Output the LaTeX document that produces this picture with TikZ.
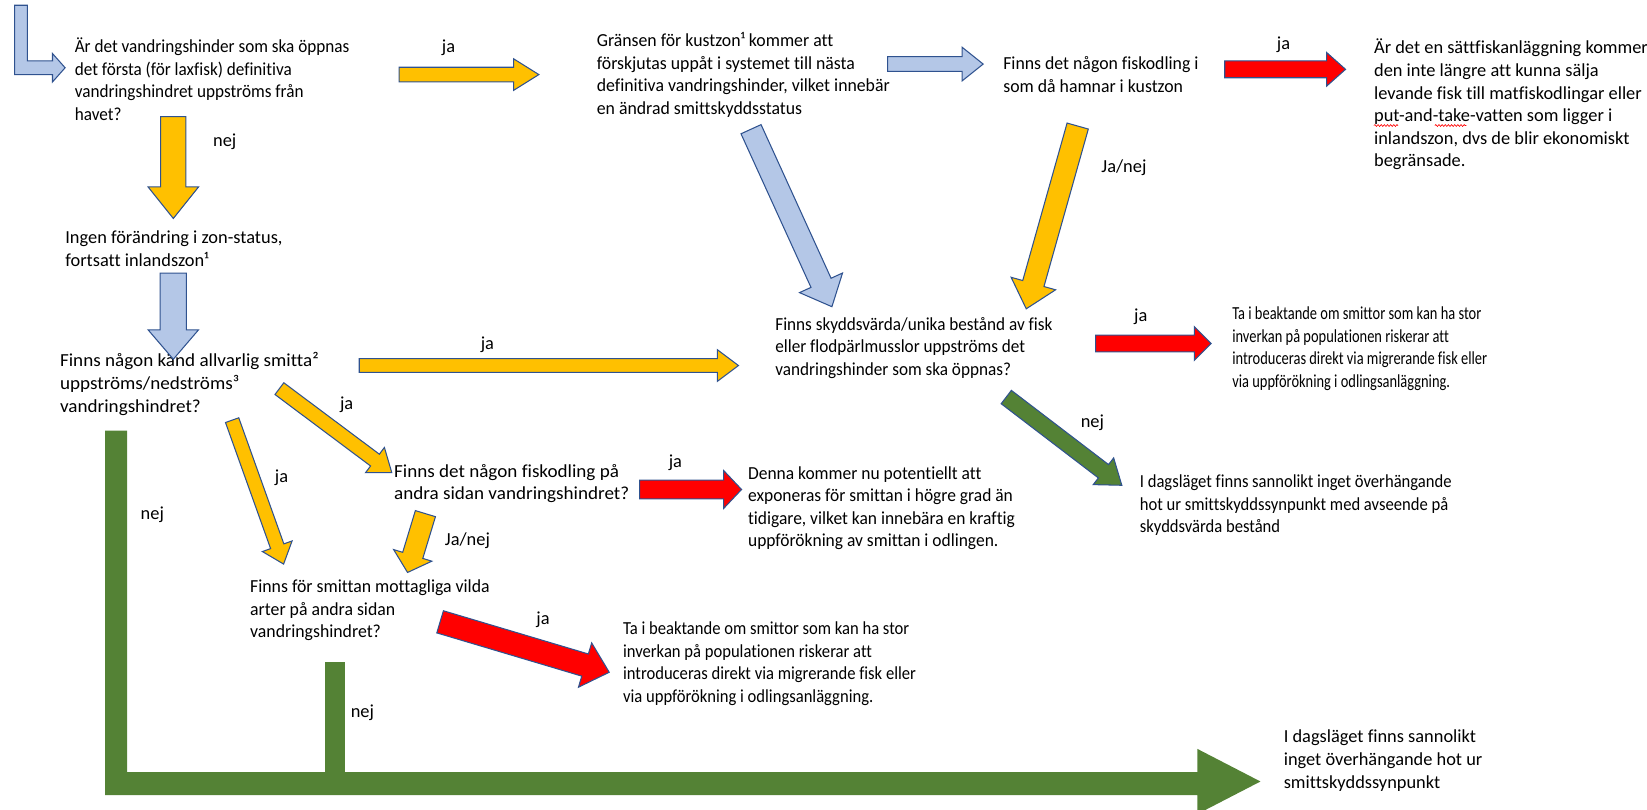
\documentclass[tikz,border=0pt]{standalone}
\usepackage{fontspec}
\setmainfont{Carlito}[Ligatures=NoCommon]
% horizontally scaled cuts for the individual text boxes
\newfontfamily\narrowA{Carlito}[Ligatures=NoCommon, FakeStretch=0.966]
\newfontfamily\narrowB{Carlito}[Ligatures=NoCommon, FakeStretch=0.934]
\newfontfamily\narrowC{Carlito}[Ligatures=NoCommon, FakeStretch=0.903]
\newfontfamily\narrowD{Carlito}[Ligatures=NoCommon, FakeStretch=0.786]
\newfontfamily\narrowE{Carlito}[Ligatures=NoCommon, FakeStretch=0.95]
\newfontfamily\wideA{Carlito}[Ligatures=NoCommon, FakeStretch=1.04]
\usetikzlibrary{calc,decorations.pathmorphing}

\definecolor{arYellow}{HTML}{FFC000}
\definecolor{arBlue}{HTML}{B4C7E7}
\definecolor{arRed}{HTML}{FF0000}
\definecolor{arGreen}{HTML}{548235}
\definecolor{arEdge}{HTML}{2F528F}

% block arrow: style, tail, tip, shaft half width, head half width, head length
\newcommand\blockarrow[6]{%
  \coordinate (ba-h) at ($(#3)!#6!(#2)$);
  \draw[#1] ($(#2)!#4!90:(#3)$) -- ($(ba-h)!#4!90:(#3)$) -- ($(ba-h)!#5!90:(#3)$)
    -- (#3) -- ($(ba-h)!#5!-90:(#3)$) -- ($(ba-h)!#4!-90:(#3)$) -- ($(#2)!#4!-90:(#3)$) -- cycle;
}

\begin{document}
\begin{tikzpicture}[x=1pt,y=-1pt,
  txt/.style={anchor=north west, inner sep=0pt, align=left, font=\fontsize{17.5}{21.5}\selectfont},
  txtA/.style={txt, font=\narrowA\fontsize{17.5}{21.5}\selectfont},
  txtB/.style={txt, font=\narrowB\fontsize{17.5}{21.5}\selectfont},
  txtC/.style={txt, font=\narrowC\fontsize{17.5}{21.5}\selectfont},
  txtD/.style={txt, font=\narrowD\fontsize{17.5}{21.5}\selectfont},
  txtE/.style={txt, font=\narrowE\fontsize{17.5}{21.5}\selectfont},
  txtW/.style={txt, font=\wideA\fontsize{17.5}{21.5}\selectfont},
  lbl/.style={inner sep=0pt, font=\fontsize{17.5}{21.5}\selectfont},
  yel/.style={fill=arYellow, draw=arEdge, line width=1pt, line join=miter},
  blu/.style={fill=arBlue, draw=arEdge, line width=1pt, line join=miter},
  redar/.style={fill=arRed, draw=arEdge, line width=1pt, line join=miter},
  grn/.style={fill=arGreen, draw=arEdge, line width=1pt, line join=miter},
  grnbar/.style={fill=arGreen, draw=none},
  spellmark/.style={draw=red, line width=0.6pt, decorate, decoration={snake, amplitude=0.9pt, segment length=3pt}}]
\useasboundingbox (0,0) rectangle (1568,771);

% ---- text blocks ----
\node[txtB] (q1) at (71,35) {\strut Är det vandringshinder som ska öppnas\\det första (för laxfisk) definitiva\\vandringshindret uppströms från\\havet?};
\node[txtA] (kust) at (568,29) {\strut Gränsen för kustzon¹ kommer att\\förskjutas uppåt i systemet till nästa\\definitiva vandringshinder, vilket innebär\\en ändrad smittskyddsstatus};
\node[txtA] (q2) at (955,51) {\strut Finns det någon fiskodling i\\som då hamnar i kustzon};
\node[txt] (saett) at (1308,36) {\strut Är det en sättfiskanläggning kommer\\den inte längre att kunna sälja\\levande fisk till matfiskodlingar eller\\put-and-take-vatten som ligger i\\inlandszon, dvs de blir ekonomiskt\\begränsade.};
\node[txt] (ingen) at (62,217) {\strut Ingen förändring i zon-status,\\fortsatt inlandszon¹};
\node[txtW] (q3) at (57,334) {\strut Finns någon känd allvarlig smitta²\\uppströms/nedströms³\\vandringshindret?};
\node[txtB] (q4) at (738,299) {\strut Finns skyddsvärda/unika bestånd av fisk\\eller flodpärlmusslor uppströms det\\vandringshinder som ska öppnas?};
\node[txtD] (risk1) at (1173,289) {\strut Ta i beaktande om smittor som kan ha stor\\inverkan på populationen riskerar att\\introduceras direkt via migrerande fisk eller\\via uppförökning i odlingsanläggning.};
\node[txtC] (ok1) at (1085,449) {\strut I dagsläget finns sannolikt inget överhängande\\hot ur smittskyddssynpunkt med avseende på\\skyddsvärda bestånd};
\node[txtW] (q5) at (375,439) {\strut Finns det någon fiskodling på\\andra sidan vandringshindret?};
\node[txtE] (expo) at (712,441) {\strut Denna kommer nu potentiellt att\\exponeras för smittan i högre grad än\\tidigare, vilket kan innebära en kraftig\\uppförökning av smittan i odlingen.};
\node[txtA] (q6) at (238,549) {\strut Finns för smittan mottagliga vilda\\arter på andra sidan\\vandringshindret?};
\node[txtC] (risk2) at (593,589) {\strut Ta i beaktande om smittor som kan ha stor\\inverkan på populationen riskerar att\\introduceras direkt via migrerande fisk eller\\via uppförökning i odlingsanläggning.};
\node[txt] (ok2) at (1222,692) {\strut I dagsläget finns sannolikt\\inget överhängande hot ur\\smittskyddssynpunkt};

% spell-check marks under "put" and "take"
\coordinate (w1a) at (1308,119.5); \coordinate (w1b) at (1331,119.5);
\coordinate (w2a) at (1366,119.5); \coordinate (w2b) at (1396,119.5);
\path[spellmark] (w1a) -- (w1b);
\path[spellmark] (w2a) -- (w2b);

% ---- answer labels ----
\node[lbl] (l1) at (427,45) {ja};
\node[lbl] (l2) at (214,135) {nej};
\node[lbl] (l3) at (1222,43) {ja};
\node[lbl] (l4) at (1070,160) {Ja/nej};
\node[lbl] (l5) at (464,328) {ja};
\node[lbl] (l6) at (330,385) {ja};
\node[lbl] (l7) at (1086,302) {ja};
\node[lbl] (l8) at (1040,402) {nej};
\node[lbl] (l9) at (643,441) {ja};
\node[lbl] (l10) at (268,455) {ja};
\node[lbl] (l11) at (445,515) {Ja/nej};
\node[lbl] (l12) at (145,490) {nej};
\node[lbl] (l13) at (517,590) {ja};
\node[lbl] (l14) at (345,679) {nej};

% ---- arrow end points ----
\coordinate (a1s) at (380,71);   \coordinate (a1e) at (513,71);
\coordinate (a2s) at (845,61);   \coordinate (a2e) at (936,61);
\coordinate (a3s) at (1166,66);  \coordinate (a3e) at (1281,66);
\coordinate (a4s) at (165,111);  \coordinate (a4e) at (165,208);
\coordinate (a5s) at (165,260);  \coordinate (a5e) at (165,342);
\coordinate (a6s) at (342,348);  \coordinate (a6e) at (703,348);
\coordinate (a7s) at (715,123);  \coordinate (a7e) at (792,292);
\coordinate (a8s) at (1026,120); \coordinate (a8e) at (977,294);
\coordinate (a9s) at (1043,327); \coordinate (a9e) at (1153,327);
\coordinate (a10s) at (958,378); \coordinate (a10e) at (1068,462);
\coordinate (a11s) at (266,370); \coordinate (a11e) at (373,450);
\coordinate (a12s) at (609,466); \coordinate (a12e) at (706,466);
\coordinate (a13s) at (221,400); \coordinate (a13e) at (270,537);
\coordinate (a14s) at (405,489); \coordinate (a14e) at (388,545);
\coordinate (a15s) at (419,592); \coordinate (a15e) at (580,640);

% ---- entry arrow (L shaped) ----
\draw[blu] (14,5) -- (26,5) -- (26,58) -- (50,58) -- (50,51) -- (62,64.5)
  -- (50,78) -- (50,71) -- (14,71) -- cycle;

% ---- block arrows ----
\blockarrow{yel}{a1s}{a1e}{7pt}{15pt}{24pt}
\blockarrow{blu}{a2s}{a2e}{7pt}{16pt}{20pt}
\blockarrow{redar}{a3s}{a3e}{8pt}{16pt}{18pt}
\blockarrow{yel}{a4s}{a4e}{12pt}{24pt}{30pt}
\blockarrow{blu}{a5s}{a5e}{12.5pt}{24pt}{28pt}
\blockarrow{yel}{a6s}{a6e}{6.5pt}{15pt}{20pt}
\blockarrow{blu}{a7s}{a7e}{10.5pt}{22.5pt}{25pt}
\blockarrow{yel}{a8s}{a8e}{10.5pt}{22pt}{25pt}
\blockarrow{redar}{a9s}{a9e}{8pt}{16pt}{16pt}
\blockarrow{grn}{a10s}{a10e}{8pt}{16pt}{22pt}
\blockarrow{yel}{a11s}{a11e}{7pt}{15pt}{20pt}
\blockarrow{redar}{a12s}{a12e}{9pt}{18pt}{17pt}
\blockarrow{yel}{a13s}{a13e}{6.7pt}{15pt}{18pt}
\blockarrow{yel}{a14s}{a14e}{10pt}{19pt}{17pt}
\blockarrow{redar}{a15s}{a15e}{11pt}{22pt}{24pt}

% ---- green "no" path along the bottom ----
\fill[grnbar] (309,630) rectangle (328,740);
\coordinate (gtip) at (1200,744);
\fill[grnbar] (100,410) -- (121,410) -- (121,735) -- (1140,735) -- (1140,713)
  -- (gtip) -- (1140,775) -- (1140,757) -- (100,757) -- cycle;
\end{tikzpicture}
\end{document}
